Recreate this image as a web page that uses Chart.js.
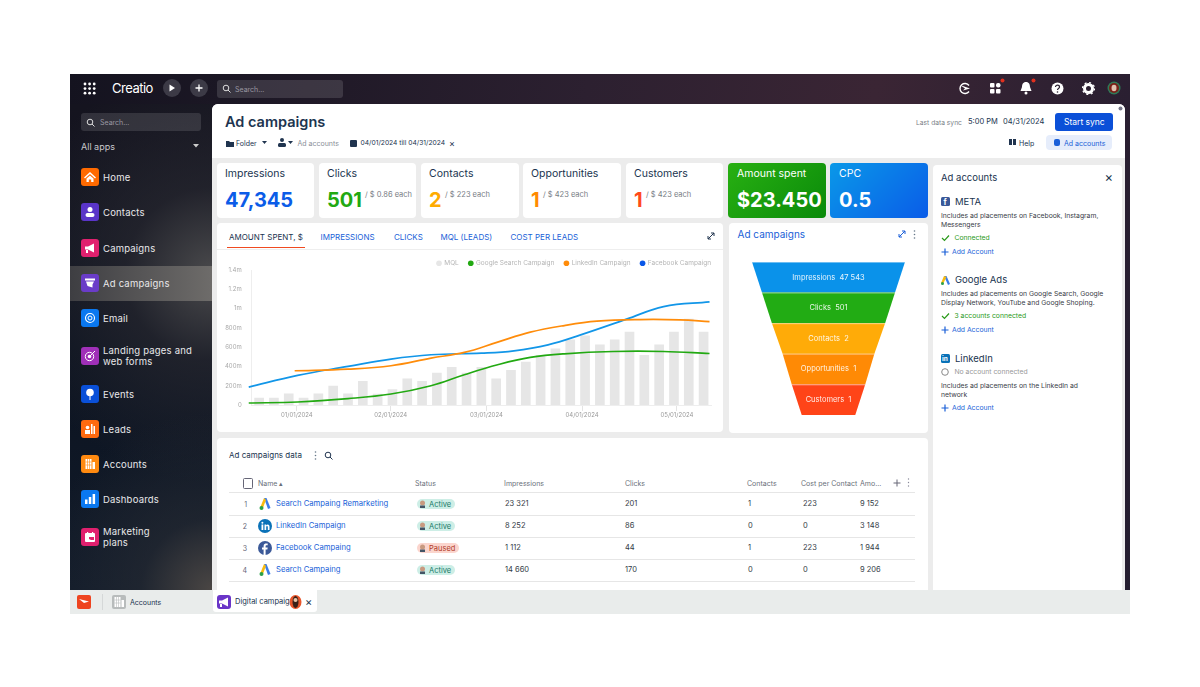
<!DOCTYPE html>
<html>
<head>
<meta charset="utf-8">
<title>Ad campaigns</title>
<script src="https://cdn.jsdelivr.net/npm/chart.js@4"></script>
<style>
  html, body { margin: 0; background: #fff; overflow: hidden; }
  body { width: 1200px; height: 687px; position: relative; font-family: Inter, "Open Sans", sans-serif; }
  #app { position: absolute; left: 70px; top: 74px; width: 1060px; height: 540px; overflow: hidden;
    background: linear-gradient(100deg, #14131f 0%, #2c2030 45%, #3a2534 70%, #241d30 100%); }
  #side { position: absolute; left: 70px; top: 104px; width: 142px; height: 486px;
    background: radial-gradient(circle at 100% 100%, #4a4644 0%, rgba(40,44,52,.6) 14%, rgba(10,20,32,0) 35%),
      radial-gradient(circle at 100% 35%, #4a4a4c 0%, rgba(40,40,48,.7) 25%, rgba(10,20,32,0) 60%),
      linear-gradient(180deg, #15141f 0%, #0c1320 50%, #111b2a 100%); }
  #main { position: absolute; left: 212px; top: 104px; width: 913px; height: 486px; background: #ececec; border-radius: 6px 6px 0 0; }
  #head { position: absolute; left: 212px; top: 104px; width: 913px; height: 54px; background: #fff; border-radius: 6px 6px 0 0; }
  #bottom { position: absolute; left: 70px; top: 590px; width: 1060px; height: 24px; background: #e9eceb; }
  .box { position: absolute; background: #fff; border-radius: 4px; }
  .t { position: absolute; white-space: nowrap; line-height: 1; transform: translateY(-50%); }
  canvas { position: absolute; }
  svg { position: absolute; }
</style>
</head>
<body>
<div id="app"></div>
<div id="side"></div>
<div id="main"></div>
<div id="head"></div>
<div id="bottom"></div>
<canvas id="spentChart" width="505" height="182" style="left:217px;top:250px"></canvas>
<canvas id="funnelChart" width="197" height="153" style="left:730px;top:262px"></canvas>

<script>
// Amount spent chart data
const mqlBars = [72, 72, 117, 72, 117, 197, 117, 245, 114, 159, 272, 245, 331, 390, 331, 390, 272, 359, 445, 514, 583, 676, 717, 624, 676, 755, 514, 624, 755, 890, 755];
const googleLine = [[-0.2, 21], [3.1, 31], [6.5, 66], [9.4, 114], [12.1, 200], [14.35, 314], [16.6, 417], [18.8, 493], [21.1, 531], [24.4, 555], [27.8, 555], [30.9, 534]];
const linkedinLine = [[2.9, 355], [6.5, 372], [9.4, 407], [12.1, 486], [14.35, 545], [16.6, 652], [18.8, 755], [21.1, 824], [23.3, 869], [26.2, 886], [28.9, 883], [30.9, 865]];
const facebookLine = [[-0.2, 186], [3.1, 307], [6.5, 400], [9.4, 476], [12.1, 521], [15.5, 538], [17.7, 562], [20, 624], [22.2, 727], [25.3, 890], [27.8, 1021], [30.9, 1069]];
const monthTicks = [3.05, 9.38, 15.84, 22.3, 28.7];
const monthLabels = ["01/01/2024", "02/01/2024", "03/01/2024", "04/01/2024", "05/01/2024"];
const yTickLabels = ["0", "200m", "400m", "600m", "800m", "1m", "1.2m", "1.4m"];

// Funnel data
const funnelStages = ["Impressions", "Clicks", "Contacts", "Opportunities", "Customers"];
const funnelCounts = ["47 543", "501", "2", "1", "1"];
const funnelShare = [100, 87, 74, 60, 48];
const funnelEnd = 35;

// Table data
const tableRows = [
  ["Search Campaing Remarketing", "Active", "23 321", "201", "1", "223", "9 152", "google"],
  ["LinkedIn Campaign", "Active", "8 252", "86", "0", "0", "3 148", "linkedin"],
  ["Facebook Campaing", "Paused", "1 112", "44", "1", "223", "1 944", "facebook"],
  ["Search Campaing", "Active", "14 660", "170", "0", "0", "9 206", "google"],
];

const glyphs = {
  home: `<path d="M6 1L0 6.500l1 1L6 3l5 4.500 1-1z" fill="#fff"/><path d="M2.500 7.500L6 4.500l3.500 3V11h-2.300V8.500H4.800V11H2.500z" fill="#fff"/>`,
  person: `<circle cx="6" cy="3.500" r="2.500" fill="#fff"/><rect x="1.500" y="7" width="9" height="4" rx="2" fill="#fff"/>`,
  horn: `<path d="M1 4.500h3L10 1.500v9L4 7.500H1z" fill="#fff"/><rect x="2" y="8" width="2" height="3" fill="#fff"/>`,
  ad: `<rect x="1" y="1.500" width="10" height="2" fill="#fff"/><path d="M2 4.500h8L8.500 7.500v3l-5-1.500z" fill="#fff"/>`,
  mail: `<circle cx="6" cy="6" r="4.500" stroke="#fff" stroke-width="1.100" fill="none"/><circle cx="6" cy="6" r="2" stroke="#fff" fill="none"/>`,
  target: `<circle cx="5.500" cy="6.500" r="4.200" stroke="#fff" fill="none"/><circle cx="5.500" cy="6.500" r="1.800" fill="#fff"/><path d="M6 6l5-5" stroke="#fff"/>`,
  pin: `<circle cx="6" cy="4.500" r="3.800" fill="#fff"/><path d="M6 8v4" stroke="#fff"/>`,
  leads: `<rect x="1" y="7" width="5" height="4" fill="#fff"/><circle cx="3.500" cy="4.500" r="1.800" fill="#fff"/><rect x="7" y="1" width="1.500" height="10" fill="#fff"/><rect x="9.500" y="3" width="1.500" height="8" fill="#fff"/>`,
  building: `<path d="M1.500 1h6v10h-6zM8.500 4h2.500v7H8.500z" fill="#fff"/><path d="M3.500 1v10M5.500 1v10M1.500 4h6M1.500 7h6" stroke="#ff8a10" stroke-width=".6"/>`,
  bars: `<rect x="1" y="6.500" width="2.500" height="4.500" fill="#fff"/><rect x="4.800" y="4" width="2.500" height="7" fill="#fff"/><rect x="8.600" y="1" width="2.500" height="10" fill="#fff"/>`,
  plan: `<rect x="1" y="2" width="10" height="9" rx="1" fill="#fff"/><rect x="3" y="1" width="1.200" height="2" fill="#fff"/><rect x="8" y="1" width="1.200" height="2" fill="#fff"/><path d="M5 6h5v3H7L5 8z" fill="#e0206e"/>`,
};

const navItems = [
  ["Home", 177, "#ff6a00", "home"], ["Contacts", 212, "#5a35c8", "person"], ["Campaigns", 248, "#e0206e", "horn"],
  ["Ad campaigns", 283, "#6a3cc8", "ad"], ["Email", 318, "#0a78f0", "mail"], ["Landing pages and<br>web forms", 356, "#a030b8", "target"],
  ["Events", 394, "#0a50d8", "pin"], ["Leads", 429, "#ff6a10", "leads"], ["Accounts", 464, "#ff8a10", "building"],
  ["Dashboards", 499, "#0a78f0", "bars"], ["Marketing<br>plans", 537, "#e0206e", "plan"],
];

const kpiCards = [
  [217, 97, "Impressions", "47,345", "#0b5ce8", ""],
  [319, 97, "Clicks", "501", "#22a912", "/ $ 0.86  each"],
  [421, 98, "Contacts", "2", "#ffab00", "/ $ 223  each"],
  [523, 98, "Opportunities", "1", "#ff8a00", "/ $ 423  each"],
  [626, 97, "Customers", "1", "#ff4a1a", "/ $ 423  each"],
];

const body = document.body;
const navy = "#20344f";
const linkBlue = "#1a5fd8";

function box(x, y, w, h, css) {
  const d = document.createElement("div");
  d.className = "box";
  d.style.cssText = `left:${x}px;top:${y}px;width:${w}px;height:${h}px;${css || ""}`;
  body.appendChild(d);
  return d;
}
function text(x, y, str, size, color, css) {
  const d = document.createElement("div");
  d.className = "t";
  d.style.cssText = `left:${x}px;top:${y}px;font-size:${size}px;color:${color};${css || ""}`;
  d.innerHTML = str;
  body.appendChild(d);
  return d;
}
function icon(x, y, w, h, inner) {
  body.insertAdjacentHTML("beforeend", `<svg style="left:${x}px;top:${y}px" width="${w}" height="${h}" viewBox="0 0 ${w} ${h}">${inner}</svg>`);
}
function plus(x, y, color) {
  icon(x, y, 8, 8, `<path d="M4 .5v7M.5 4h7" stroke="${color}" stroke-width="1.2"/>`);
}
function check(x, y) {
  icon(x, y, 9, 8, `<path d="M1 4l2.5 2.5L8 1.5" stroke="#2a9a1a" stroke-width="1.2" fill="none"/>`);
}

// top bar
let dots = "";
for (let i = 0; i < 3; i++) for (let j = 0; j < 3; j++) dots += `<circle cx="${2 + i * 4.6}" cy="${2 + j * 4.6}" r="1.4" fill="#fff"/>`;
icon(83, 82, 13, 13, dots);
text(112, 88, "Creatio", 13, "#fff", "letter-spacing:-.5px");
icon(163, 79, 18, 18, `<circle cx="9" cy="9" r="9" fill="#3c3a46"/><path d="M6.5 5.5l5.5 3.5-5.5 3.5z" fill="#fff"/>`);
icon(190, 79, 18, 18, `<circle cx="9" cy="9" r="9" fill="#3c3a46"/><path d="M9 5.5v7M5.5 9h7" stroke="#fff" stroke-width="1.3"/>`);
box(217, 80, 126, 18, "background:rgba(255,255,255,.13);border-radius:3px");
icon(222, 84, 9, 9, `<circle cx="4" cy="4" r="2.8" stroke="#ddd" fill="none"/><path d="M6 6l2.5 2.5" stroke="#ddd"/>`);
text(235, 89, "Search...", 7, "#9a98a2");
icon(958, 82, 13, 13, `<path d="M11 3.500A5 5 0 1 0 11 9.500" stroke="#fff" stroke-width="1.400" fill="none"/><path d="M2 3l10 3.500L5 8.500l2-2z" fill="#fff"/>`);
icon(990, 83, 11, 11, `<rect width="4.5" height="4.5" rx="1" fill="#fff"/><rect x="6" width="4.5" height="4.5" rx="2" fill="#fff"/><rect y="6" width="4.5" height="4.5" rx="1" fill="#fff"/><rect x="6" y="6" width="4.5" height="4.5" rx="1" fill="#fff"/>`);
icon(1020, 82, 12, 13, `<path d="M6 0c3 0 4 2.5 4 5l1.500 4H.5L2 5c0-2.500 1-5 4-5z" fill="#fff"/><circle cx="6" cy="11" r="1.500" fill="#fff"/>`);
icon(1000, 78, 6, 6, `<circle cx="2.500" cy="2.500" r="2" fill="#e0301e"/>`);
icon(1031, 78, 6, 6, `<circle cx="2.500" cy="2.500" r="2" fill="#e0301e"/>`);
icon(1051, 82, 13, 13, `<circle cx="6.500" cy="6.500" r="6" fill="#fff"/><path d="M4.500 5c0-2.500 4-2.500 4 0 0 1.500-2 1.500-2 3" stroke="#2a2030" stroke-width="1.200" fill="none"/><circle cx="6.500" cy="10" r=".8" fill="#2a2030"/>`);
icon(1082, 82, 13, 13, `<circle cx="6.500" cy="6.500" r="4" stroke="#fff" stroke-width="3" fill="none"/><circle cx="6.500" cy="6.500" r="6" stroke="#fff" stroke-width="1.200" stroke-dasharray="2 2.700" fill="none"/>`);
icon(1107, 81, 14, 14, `<circle cx="7" cy="7" r="6.500" fill="#2f7a58"/><circle cx="7" cy="7" r="5" fill="#7a2018"/><ellipse cx="7" cy="7" rx="2.500" ry="3.200" fill="#e0c0b0"/>`);

// sidebar
box(81, 113, 120, 18, "background:rgba(255,255,255,.12);border-radius:3px");
icon(86, 118, 9, 9, `<circle cx="4" cy="4" r="2.800" stroke="#ddd" fill="none"/><path d="M6 6l2.500 2.500" stroke="#ddd"/>`);
text(100, 122, "Search...", 7, "#9a98a2");
text(81, 145.5, "All apps", 9, "#c8c8cc");
icon(193, 144, 6, 4, `<path d="M0 0h6L3 3.500z" fill="#ccc"/>`);
box(70, 266, 142, 35, "background:linear-gradient(90deg,#3e3e42,#6e6c6a);border-radius:0");
navItems.forEach(([name, y, color, glyph]) => {
  box(81, y - 9, 18, 18, `background:${color};border-radius:3px`);
  icon(84, y - 6, 12, 12, glyphs[glyph]);
  text(103, y, name, 9.5, "#e8e8ea", "line-height:11px;letter-spacing:.2px");
});

// header
text(225, 122, "Ad campaigns", 14.500, navy, "font-weight:600");
icon(226, 140, 8, 7, `<path d="M0 1h3l1 1h4v5H0z" fill="${navy}"/>`);
text(236, 142.5, "Folder", 7, navy);
icon(262, 141, 5, 4, `<path d="M0 0h5L2.500 3z" fill="${navy}"/>`);
icon(278, 138, 8, 9, `<circle cx="4" cy="2" r="2" fill="${navy}"/><rect y="5" width="8" height="4" rx="1.500" fill="${navy}"/>`);
icon(288, 141, 5, 4, `<path d="M0 0h5L2.500 3z" fill="${navy}"/>`);
text(297.5, 142.5, "Ad accounts", 7, "#8a8f98");
icon(350, 139, 7, 8, `<rect y="1" width="7" height="7" rx="1" fill="${navy}"/>`);
text(360.5, 142.5, "04/01/2024 till 04/31/2024", 6.700, navy);
text(449, 142.5, "×", 9, navy);
text(916, 123, "Last data sync", 6.700, "#7a7f88");
text(968, 122, "5:00 PM", 7.500, navy);
text(1003, 122, "04/31/2024", 7.500, navy);
box(1055, 113, 58, 18, "background:#0b50d8;border-radius:3px");
text(1064, 122, "Start sync", 8.500, "#fff");
icon(1009, 139, 7, 7, `<rect width="3" height="6" fill="${navy}"/><rect x="4" width="3" height="6" fill="${navy}"/>`);
text(1019, 142.5, "Help", 7, navy);
box(1046, 135, 66, 15, "background:#e6edfb;border-radius:4px");
icon(1054, 139, 6, 7, `<rect width="6" height="7" rx="2" fill="${linkBlue}"/>`);
text(1064, 142.5, "Ad accounts", 7, linkBlue);
icon(1118, 106, 5, 5, `<circle cx="2.500" cy="2.500" r="2" fill="#778"/>`);

// kpi cards
kpiCards.forEach(([x, w, name, value, color, each]) => {
  box(x, 163, w, 55);
  text(x + 8, 174, name, 10.500, navy);
  const v = text(x + 8, 199.500, value, 20, color, "font-weight:700");
  if (each) text(x + 8 + v.offsetWidth + 3, 194.500, each, 7.500, "#777c84");
});
box(728, 163, 98, 55, "background:linear-gradient(135deg,#28b012,#0a8a0a)");
text(737, 174, "Amount spent", 10.500, "#fff");
text(737, 199.500, "$23.450", 20, "#fff", "font-weight:700");
box(830, 163, 98, 55, "background:linear-gradient(135deg,#0a98e8,#0a5ce8)");
text(839, 174, "CPC", 10.500, "#fff");
text(839, 199.500, "0.5", 20, "#fff", "font-weight:700");

// chart cards - canvases are moved above them afterwards
box(217, 223, 506, 209);
box(729, 223, 199, 210);
const tabs = [[229, "AMOUNT SPENT, $", navy], [320.500, "IMPRESSIONS", linkBlue], [394, "CLICKS", linkBlue], [440.500, "MQL (LEADS)", linkBlue], [510.500, "COST PER LEADS", linkBlue]];
tabs.forEach(([x, s, c]) => text(x, 236.500, s, 8, c));
box(227, 247, 78, 1, "background:#f04a20;border-radius:0");
box(217, 248.500, 506, 1, "background:#eee;border-radius:0");
icon(707, 232, 8, 8, `<path d="M1 7l6-6M4 1h3v3M1 4v3h3" stroke="${navy}" fill="none"/>`);
text(737.500, 233.500, "Ad campaigns", 10, linkBlue);
icon(898, 230, 8, 8, `<path d="M1 7l6-6M4 1h3v3M1 4v3h3" stroke="${linkBlue}" fill="none"/>`);
icon(913, 230, 3, 9, `<circle cx="1.500" cy="1" r=".8" fill="#678"/><circle cx="1.500" cy="4.500" r=".8" fill="#678"/><circle cx="1.500" cy="8" r=".8" fill="#678"/>`);

// table
box(217, 438, 711, 152, "border-radius:4px 4px 0 0");
text(229, 455, "Ad campaigns data", 8, navy);
icon(314, 451, 3, 9, `<circle cx="1.500" cy="1" r=".8" fill="#678"/><circle cx="1.500" cy="4.500" r=".8" fill="#678"/><circle cx="1.500" cy="8" r=".8" fill="#678"/>`);
icon(324, 451, 9, 9, `<circle cx="4" cy="4" r="2.800" stroke="${navy}" fill="none"/><path d="M6 6l2.500 2.500" stroke="${navy}"/>`);
box(243, 478, 8, 9, "border:1px solid #667;border-radius:1.500px;background:#fff");
const tableHeads = [[258, "Name ▴"], [415, "Status"], [504, "Impressions"], [625, "Clicks"], [747, "Contacts"], [801, "Cost per Contact"], [860, "Amo..."]];
tableHeads.forEach(([x, s]) => text(x, 482.500, s, 7, "#6a707a"));
icon(893, 479, 8, 8, `<path d="M4 .5v7M.5 4h7" stroke="#667" stroke-width="1"/>`);
icon(907, 478, 3, 9, `<circle cx="1.500" cy="1" r=".7" fill="#889"/><circle cx="1.500" cy="4.500" r=".7" fill="#889"/><circle cx="1.500" cy="8" r=".7" fill="#889"/>`);
box(229, 492, 686, 1, "background:#e6e6e6;border-radius:0");
tableRows.forEach((row, i) => {
  const y = 504 + i * 22;
  text(247, y, i + 1, 7, "#667", "transform:translate(-100%,-50%)");
  if (row[7] === "google") {
    icon(258, y - 7, 14, 14, `<circle cx="7" cy="7" r="7" fill="#fff"/><path d="M6 1l2.500 0 4 10-2.500 1z" fill="#3b7de8"/><path d="M6 1L2 11l2.500 1L8 3z" fill="#f8bb10"/><circle cx="3.500" cy="11" r="2" fill="#2aa14a"/>`);
  } else if (row[7] === "linkedin") {
    icon(258, y - 7, 14, 14, `<circle cx="7" cy="7" r="7" fill="#0a72b8"/><rect x="3.500" y="5.500" width="1.800" height="5.500" fill="#fff"/><circle cx="4.400" cy="3.800" r="1" fill="#fff"/><path d="M6.500 5.500h1.700v1c1-1.700 3.300-1.200 3.300 1V11H9.800V8c0-1.400-1.600-1.400-1.600 0v3H6.500z" fill="#fff"/>`);
  } else {
    icon(258, y - 7, 14, 14, `<circle cx="7" cy="7" r="7" fill="#3b5998"/><path d="M7.600 14V8.500H9.400l.3-2H7.600V5.300c0-.7.3-1 1-1h1.100V2.500C8 2.200 5.600 2.300 5.600 5v1.500H4v2h1.600V14z" fill="#fff"/>`);
  }
  text(276, y, row[0], 7.700, linkBlue);
  const active = row[1] === "Active";
  box(417, y - 5, active ? 38 : 42, 10, `background:${active ? "#cdeee6" : "#fbd5cd"};border-radius:5px`);
  icon(419, y - 4, 7, 8, `<circle cx="3.500" cy="3" r="2.500" fill="#c89a80"/><rect x="1" y="5.500" width="5" height="2.500" fill="#456"/>`);
  text(429, y + .5, row[1], 7.500, active ? "#1a7a66" : "#b03a28");
  [[505, 2], [625, 3], [748, 4], [803, 5], [860, 6]].forEach(([x, c]) => text(x, y, row[c], 7.500, "#333b46"));
  box(229, y + 10.500, 686, 1, "background:#e6e6e6;border-radius:0");
});

// ad accounts panel
box(933, 165, 189, 425, "border-radius:4px 4px 0 0");
text(941, 177.500, "Ad accounts", 9.500, navy);
text(1104.500, 177, "×", 13, navy);
const desc = "#3a4048";
box(941, 197, 9, 9, "background:#3b5998;border-radius:1.500px");
text(943.500, 202, "f", 8, "#fff", "font-weight:700");
text(955, 201.500, "META", 9.500, navy);
text(941, 215.500, "Includes ad placements on Facebook, Instagram,", 6.800, desc);
text(941, 224.500, "Messengers", 6.800, desc);
check(941, 234); text(954.500, 238, "Connected", 6.800, "#2a9a1a");
plus(941, 248, linkBlue); text(952, 251.500, "Add Account", 6.800, linkBlue);
icon(941, 276, 9, 9, `<path d="M3 0h2.500L9 8l-2 1z" fill="#3b7de8"/><path d="M3 0L0 7l2 1 3.500-7z" fill="#f8bb10"/><circle cx="1.500" cy="7.500" r="1.500" fill="#2aa14a"/>`);
text(955, 280, "Google Ads", 9.500, navy);
text(941, 294, "Includes ad placements on Google Search, Google", 6.800, desc);
text(941, 303, "Display Network, YouTube and Google Shoping.", 6.800, desc);
check(941, 312); text(954.500, 316, "3 accounts connected", 6.800, "#2a9a1a");
plus(941, 326, linkBlue); text(952, 330, "Add Account", 6.800, linkBlue);
box(941, 354, 9, 9, "background:#0a72b8;border-radius:1.500px");
text(942, 358.700, "in", 6.500, "#fff", "font-weight:700");
text(955, 358.500, "LinkedIn", 9.500, navy);
icon(941, 368, 8, 8, `<circle cx="4" cy="4" r="3.300" stroke="#888" fill="none"/>`);
text(954.500, 372, "No account connected", 6.800, "#999");
text(941, 385.500, "Includes ad placements on the LinkedIn ad", 6.800, desc);
text(941, 394.500, "network", 6.800, desc);
plus(941, 404, linkBlue); text(952, 408, "Add Account", 6.800, linkBlue);

// bottom tabs
box(77, 595, 14, 14, "background:#ee4420;border-radius:2px");
icon(79, 599, 10, 5, `<path d="M0 0l10 2.500L5 4z" fill="#fff"/>`);
box(102, 594, 1, 16, "background:#d5d8d8;border-radius:0");
box(112, 595, 14, 14, "background:#b8bcbc;border-radius:2px");
icon(113, 596, 12, 12, glyphs.building.replace("#ff8a10", "#b8bcbc"));
text(130, 602, "Accounts", 7, navy);
box(213, 590, 104, 22, "border-radius:0 0 3px 3px");
box(217, 595, 14, 14, "background:#6a35c8;border-radius:3px");
icon(218, 596, 12, 12, glyphs.horn);
text(235, 602, "Digital campaig", 7.500, navy);
icon(289, 595, 13, 14, `<ellipse cx="6.500" cy="7" rx="6" ry="7" fill="#e8552a"/><ellipse cx="6.500" cy="7" rx="3" ry="6" fill="#3a2018"/><circle cx="6.500" cy="5" r="2" fill="#e8c4a8"/>`);
text(305, 601.500, "×", 11, navy);

// canvases on top of the cards
body.appendChild(document.getElementById("spentChart"));
body.appendChild(document.getElementById("funnelChart"));

Chart.defaults.font.family = "Inter, 'Open Sans', sans-serif";
Chart.defaults.animation = false;

const toPoints = (pairs) => pairs.map(([x, y]) => ({ x, y }));
const lineStyle = { type: "line", pointRadius: 0, borderWidth: 1.7, tension: 0.4, fill: false, order: 1, clip: false };

// keep the legend strip at a fixed height and flush with the plot's right edge
const legendFitPlugin = {
  id: "legendFit",
  afterInit(chart) {
    const legend = chart.legend;
    const fit = legend.fit.bind(legend);
    legend.fit = () => { fit(); legend.height = 20; };
  },
  afterLayout(chart) {
    chart.legend.right = chart.chartArea.right + 10;
  },
};

const spentCtx = document.getElementById("spentChart").getContext("2d");
const spentChart = new Chart(spentCtx, {
  type: "bar",
  data: {
    datasets: [
      { label: "MQL", data: mqlBars.map((y, i) => ({ x: i + 0.5, y })), backgroundColor: "#e6e6e6", borderColor: "#e6e6e6", barThickness: 9, order: 2 },
      { ...lineStyle, label: "Google Search Campaign", data: toPoints(googleLine), borderColor: "#22a912", backgroundColor: "#22a912" },
      { ...lineStyle, label: "LinkedIn Campaign", data: toPoints(linkedinLine), borderColor: "#ff8c0a", backgroundColor: "#ff8c0a" },
      { ...lineStyle, label: "Facebook Campaign", data: toPoints(facebookLine), borderColor: "#1296e8", backgroundColor: "#0a57e8" },
    ],
  },
  options: {
    responsive: false,
    layout: { padding: { right: 11, bottom: 0 } },
    plugins: {
      tooltip: { enabled: false },
      legend: {
        align: "end",
        labels: {
          font: { size: 6.5 }, color: "#b5b5b5", boxWidth: 4, boxHeight: 4, usePointStyle: true, padding: 10,
          generateLabels: (chart) => chart.data.datasets.map((d, i) => ({
            text: d.label, datasetIndex: i, fillStyle: d.backgroundColor, strokeStyle: d.backgroundColor, lineWidth: 0, pointStyle: "circle",
            fontColor: "#b5b5b5",
          })),
        },
      },
    },
    scales: {
      x: {
        type: "linear", min: 0, max: 31, offset: false,
        grid: { drawOnChartArea: false, tickLength: 6, color: "#e4e4e4", offset: false },
        border: { color: "#eeeeee" },
        afterBuildTicks: (scale) => { scale.ticks = monthTicks.map((value) => ({ value })); },
        afterFit: (scale) => { scale.height = 27; },
        ticks: {
          font: { size: 6 }, color: "#9a9a9a", maxRotation: 0, autoSkip: false, padding: 1,
          callback: (value) => monthLabels[monthTicks.indexOf(value)],
        },
      },
      y: {
        min: 0, max: 1400,
        grid: { display: false },
        border: { color: "#eeeeee" },
        afterFit: (scale) => { scale.width = 34.7; },
        ticks: {
          stepSize: 200, font: { size: 6 }, color: "#a8a8a8", padding: 2,
          callback: (value) => yTickLabels[value / 200],
        },
      },
    },
  },
  plugins: [legendFitPlugin],
});

// trapezoids are drawn from the floating bars' own scale positions
const funnelColors = ["#0a92ea", "#22ac14", "#ffab08", "#ff8a05", "#ff4418"];
const funnelPlugin = {
  id: "funnelShape",
  beforeDatasetsDraw(chart) {
    const { ctx } = chart;
    const bars = chart.getDatasetMeta(0).data;
    const centre = chart.scales.x.getPixelForValue(0);
    bars.forEach((bar, i) => {
      const top = bar.y - bar.height / 2;
      const bottom = bar.y + bar.height / 2;
      const halfTop = bar.x - centre;
      const nextEdge = i + 1 < bars.length ? bars[i + 1].x : chart.scales.x.getPixelForValue(funnelEnd);
      const halfBottom = nextEdge - centre;
      ctx.fillStyle = funnelColors[i];
      ctx.beginPath();
      ctx.moveTo(centre - halfTop, top);
      ctx.lineTo(centre + halfTop, top);
      ctx.lineTo(centre + halfBottom, bottom);
      ctx.lineTo(centre - halfBottom, bottom);
      ctx.closePath();
      ctx.fill();
      ctx.strokeStyle = "rgba(255,255,255,.4)";
      ctx.lineWidth = 1;
      ctx.beginPath();
      ctx.moveTo(centre - halfTop, top + 0.5);
      ctx.lineTo(centre + halfTop, top + 0.5);
      ctx.stroke();
      ctx.fillStyle = "rgba(255,255,255,.9)";
      ctx.textAlign = "center";
      ctx.textBaseline = "middle";
      ctx.font = "7.5px Inter";
      ctx.fillText(`${funnelStages[i]}  ${funnelCounts[i]}`, centre, bar.y);
    });
    return false;
  },
};

const funnelCtx = document.getElementById("funnelChart").getContext("2d");
const funnelChart = new Chart(funnelCtx, {
  type: "bar",
  data: {
    labels: funnelStages,
    datasets: [{ data: funnelShare.map((v) => [-v, v]), backgroundColor: funnelColors, barPercentage: 1, categoryPercentage: 1 }],
  },
  options: {
    responsive: false,
    indexAxis: "y",
    layout: { padding: 0 },
    plugins: { legend: { display: false }, tooltip: { enabled: false } },
    scales: {
      x: { display: false, min: -128.8, max: 128.8 },
      y: { display: false },
    },
  },
  plugins: [funnelPlugin],
});
</script>
</body>
</html>
